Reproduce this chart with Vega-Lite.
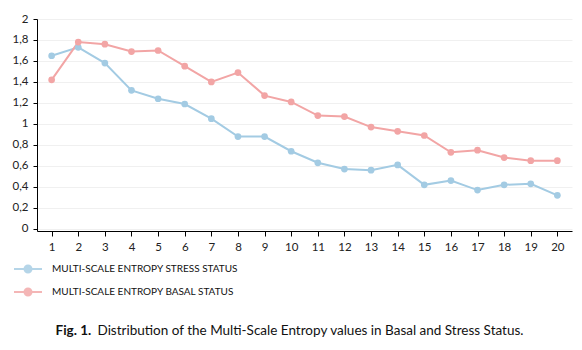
{
  "$schema": "https://vega.github.io/schema/vega-lite/v6.json",
  "width": 535,
  "height": 212,
  "autosize": {"type": "none"},
  "padding": {"left": 37, "top": 19, "right": 10, "bottom": 119},
  "background": "white",
  "config": {"view": {"stroke": null}, "font": "Lato"},
  "data": {
    "values": [
      {"scale": 1, "series": "MULTI-SCALE ENTROPY STRESS STATUS", "value": 1.65},
      {"scale": 2, "series": "MULTI-SCALE ENTROPY STRESS STATUS", "value": 1.73},
      {"scale": 3, "series": "MULTI-SCALE ENTROPY STRESS STATUS", "value": 1.58},
      {"scale": 4, "series": "MULTI-SCALE ENTROPY STRESS STATUS", "value": 1.32},
      {"scale": 5, "series": "MULTI-SCALE ENTROPY STRESS STATUS", "value": 1.24},
      {"scale": 6, "series": "MULTI-SCALE ENTROPY STRESS STATUS", "value": 1.19},
      {"scale": 7, "series": "MULTI-SCALE ENTROPY STRESS STATUS", "value": 1.05},
      {"scale": 8, "series": "MULTI-SCALE ENTROPY STRESS STATUS", "value": 0.88},
      {"scale": 9, "series": "MULTI-SCALE ENTROPY STRESS STATUS", "value": 0.88},
      {"scale": 10, "series": "MULTI-SCALE ENTROPY STRESS STATUS", "value": 0.74},
      {"scale": 11, "series": "MULTI-SCALE ENTROPY STRESS STATUS", "value": 0.63},
      {"scale": 12, "series": "MULTI-SCALE ENTROPY STRESS STATUS", "value": 0.57},
      {"scale": 13, "series": "MULTI-SCALE ENTROPY STRESS STATUS", "value": 0.56},
      {"scale": 14, "series": "MULTI-SCALE ENTROPY STRESS STATUS", "value": 0.61},
      {"scale": 15, "series": "MULTI-SCALE ENTROPY STRESS STATUS", "value": 0.42},
      {"scale": 16, "series": "MULTI-SCALE ENTROPY STRESS STATUS", "value": 0.46},
      {"scale": 17, "series": "MULTI-SCALE ENTROPY STRESS STATUS", "value": 0.37},
      {"scale": 18, "series": "MULTI-SCALE ENTROPY STRESS STATUS", "value": 0.42},
      {"scale": 19, "series": "MULTI-SCALE ENTROPY STRESS STATUS", "value": 0.43},
      {"scale": 20, "series": "MULTI-SCALE ENTROPY STRESS STATUS", "value": 0.32},
      {"scale": 1, "series": "MULTI-SCALE ENTROPY BASAL STATUS", "value": 1.42},
      {"scale": 2, "series": "MULTI-SCALE ENTROPY BASAL STATUS", "value": 1.78},
      {"scale": 3, "series": "MULTI-SCALE ENTROPY BASAL STATUS", "value": 1.76},
      {"scale": 4, "series": "MULTI-SCALE ENTROPY BASAL STATUS", "value": 1.69},
      {"scale": 5, "series": "MULTI-SCALE ENTROPY BASAL STATUS", "value": 1.7},
      {"scale": 6, "series": "MULTI-SCALE ENTROPY BASAL STATUS", "value": 1.55},
      {"scale": 7, "series": "MULTI-SCALE ENTROPY BASAL STATUS", "value": 1.4},
      {"scale": 8, "series": "MULTI-SCALE ENTROPY BASAL STATUS", "value": 1.49},
      {"scale": 9, "series": "MULTI-SCALE ENTROPY BASAL STATUS", "value": 1.27},
      {"scale": 10, "series": "MULTI-SCALE ENTROPY BASAL STATUS", "value": 1.21},
      {"scale": 11, "series": "MULTI-SCALE ENTROPY BASAL STATUS", "value": 1.08},
      {"scale": 12, "series": "MULTI-SCALE ENTROPY BASAL STATUS", "value": 1.07},
      {"scale": 13, "series": "MULTI-SCALE ENTROPY BASAL STATUS", "value": 0.97},
      {"scale": 14, "series": "MULTI-SCALE ENTROPY BASAL STATUS", "value": 0.93},
      {"scale": 15, "series": "MULTI-SCALE ENTROPY BASAL STATUS", "value": 0.89},
      {"scale": 16, "series": "MULTI-SCALE ENTROPY BASAL STATUS", "value": 0.73},
      {"scale": 17, "series": "MULTI-SCALE ENTROPY BASAL STATUS", "value": 0.75},
      {"scale": 18, "series": "MULTI-SCALE ENTROPY BASAL STATUS", "value": 0.68},
      {"scale": 19, "series": "MULTI-SCALE ENTROPY BASAL STATUS", "value": 0.65},
      {"scale": 20, "series": "MULTI-SCALE ENTROPY BASAL STATUS", "value": 0.65}
    ]
  },
  "mark": {
    "type": "line",
    "strokeWidth": 2,
    "point": {"filled": true, "size": 45, "opacity": 1}
  },
  "encoding": {
    "x": {
      "field": "scale",
      "type": "ordinal",
      "sort": null,
      "scale": {"type": "point", "padding": 0.55},
      "axis": {
        "labelAngle": 0,
        "domainColor": "black",
        "tickColor": "black",
        "tickSize": 5,
        "labelFontSize": 11.5,
        "labelColor": "#222222",
        "labelPadding": 5,
        "grid": false,
        "title": "Distribution of the Multi-Scale Entropy values in Basal and Stress Status.",
        "titleFont": "Lato",
        "titleX": 60,
        "titleY": 103,
        "titleAlign": "left",
        "titleBaseline": "alphabetic",
        "titleFontWeight": "normal",
        "titleFontSize": 13.5,
        "titleColor": "#111111"
      }
    },
    "y": {
      "field": "value",
      "type": "quantitative",
      "scale": {"domain": [-0.02, 2], "nice": false, "zero": false},
      "axis": {
        "values": [0, 0.2, 0.4, 0.6, 0.8, 1, 1.2, 1.4, 1.6, 1.8, 2],
        "labelExpr": "replace(format(datum.value, '~g'), '.', ',')",
        "grid": true,
        "gridColor": "#f0f0f0",
        "domainColor": "black",
        "tickColor": "black",
        "tickSize": 4,
        "labelFontSize": 11.5,
        "labelColor": "#222222",
        "labelPadding": 5,
        "title": "Fig. 1.",
        "titleFont": "Lato",
        "titleAngle": 0,
        "titleX": 18,
        "titleY": 315,
        "titleAlign": "left",
        "titleBaseline": "alphabetic",
        "titleFontWeight": "bold",
        "titleFontSize": 13.5,
        "titleColor": "#111111"
      }
    },
    "color": {
      "field": "series",
      "type": "nominal",
      "sort": null,
      "scale": {
        "domain": ["MULTI-SCALE ENTROPY STRESS STATUS", "MULTI-SCALE ENTROPY BASAL STATUS"],
        "range": ["#a3cbe3", "#f2a5a5"]
      },
      "legend": {
        "orient": "none",
        "legendX": -24,
        "legendY": 235,
        "title": null,
        "direction": "vertical",
        "symbolType": "M-1,0H1M-0.25,0A0.25,0.25 0 1,0 0.25,0A0.25,0.25 0 1,0 -0.25,0",
        "symbolSize": 784,
        "symbolStrokeWidth": 2,
        "labelFont": "Lato",
        "labelFontSize": 10,
        "labelLimit": 400,
        "labelColor": "#111111",
        "labelOffset": 9,
        "rowPadding": -2,
        "symbolOpacity": 0.8,
        "encode": {
          "symbols": {"update": {"fill": {"scale": "color", "field": "value"}}}
        }
      }
    }
  }
}
